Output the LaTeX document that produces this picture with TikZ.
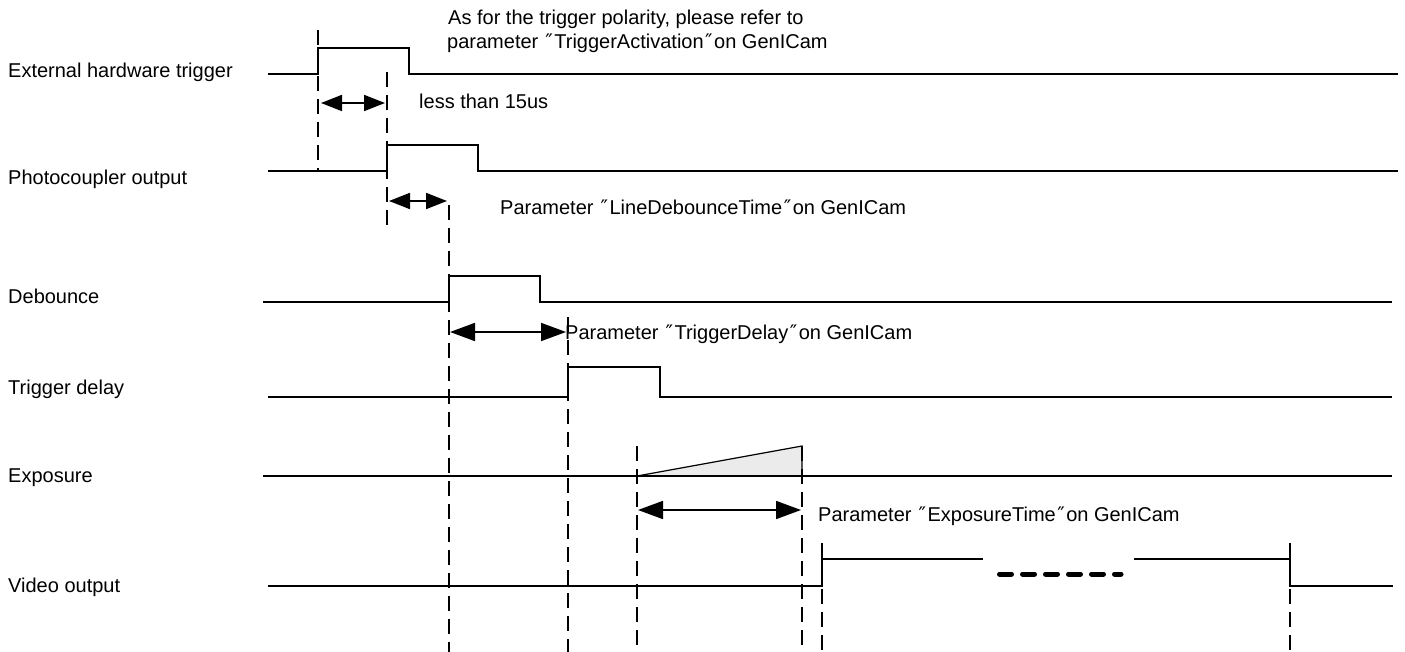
\documentclass[tikz,border=0pt]{standalone}
\usepackage{fontspec}
\setmainfont{Liberation Sans}
\newfontfamily\qfont{DejaVu Sans}
\usetikzlibrary{arrows.meta}
\newcommand{\qq}{{\qfont\kern1.5pt″\kern1.5pt}}
\begin{document}
\begin{tikzpicture}[x=1pt,y=-1pt,
  sig/.style={line width=1.2pt,black},
  guide/.style={line width=1.8pt,dash pattern=on 15pt off 8pt},
  dimsmall/.style={line width=1.8pt,{Triangle[length=21pt,width=16pt]}-{Triangle[length=21pt,width=16pt]}},
  dimbig/.style={line width=1.8pt,{Triangle[length=25pt,width=18pt]}-{Triangle[length=25pt,width=18pt]}},
  lbl/.style={anchor=base west,inner sep=0pt,font=\fontsize{20}{23}\selectfont}]
\useasboundingbox (0,0) rectangle (1405,652);

% labels
\node[lbl] (l1) at (8,78) {External hardware trigger};
\node[lbl] (l2) at (8,185) {Photocoupler output};
\node[lbl] (l3) at (8,303) {Debounce};
\node[lbl] (l4) at (8,394) {Trigger delay};
\node[lbl] (l5) at (8,482) {Exposure};
\node[lbl] (l6) at (8,592) {Video output};

% notes
\node[lbl] (n1) at (448,25) {As for the trigger polarity, please refer to};
\node[lbl] (n2) at (447,48.5) {parameter \qq TriggerActivation\qq on GenICam};
\node[lbl] (n3) at (419,109) {less than 15us};
\node[lbl] (n4) at (500,215) {Parameter \qq LineDebounceTime\qq on GenICam};
\node[lbl] (n5) at (565,339) {Parameter \qq TriggerDelay\qq on GenICam};
\node[lbl] (n6) at (818,521) {Parameter \qq ExposureTime\qq on GenICam};

% exposure fill
\fill[gray!16] (637,476) -- (802,446) -- (802,476) -- cycle;

% signals
\draw[sig] (268,74) -- (318,74) -- (318,48) -- (409,48) -- (409,74) -- (1398,74);
\draw[sig] (268,171) -- (387,171) -- (387,145) -- (478,145) -- (478,171) -- (1398,171);
\draw[sig] (263,302) -- (449,302) -- (449,276) -- (540,276) -- (540,302) -- (1392,302);
\draw[sig] (268,397) -- (568,397) -- (568,367) -- (660,367) -- (660,397) -- (1392,397);
\draw[sig] (263,476) -- (1392,476);
\draw[sig] (637,476) -- (802,446) -- (802,476);
\draw[sig] (268,586) -- (822,586) -- (822,559) -- (983,559);
\draw[sig] (1134,559) -- (1290,559) -- (1290,586) -- (1393,586);
\draw[line width=5pt,line cap=round,dash pattern=on 12pt off 11pt] (999.5,574) -- (1121,574);

% guide lines
\coordinate (g1a) at (318,30);  \coordinate (g1b) at (318,171);
\coordinate (g2a) at (387,72);  \coordinate (g2b) at (387,225);
\coordinate (g3a) at (449,205); \coordinate (g3b) at (449,652);
\coordinate (g4a) at (568,317); \coordinate (g4b) at (568,652);
\coordinate (g5a) at (637,446); \coordinate (g5b) at (637,652);
\coordinate (g6a) at (802,446); \coordinate (g6b) at (802,652);
\coordinate (g7a) at (822,543); \coordinate (g7b) at (822,652);
\coordinate (g8a) at (1290,543); \coordinate (g8b) at (1290,652);
\foreach \g in {1,...,8} {\draw[guide] (g\g a) -- (g\g b);}

% dimension arrows
\coordinate (d1a) at (321,103); \coordinate (d1b) at (385,103);
\coordinate (d2a) at (389,201); \coordinate (d2b) at (447,201);
\coordinate (d3a) at (450,332); \coordinate (d3b) at (566,332);
\coordinate (d4a) at (638,510); \coordinate (d4b) at (801,510);
\draw[dimsmall] (d1a) -- (d1b);
\draw[dimsmall] (d2a) -- (d2b);
\draw[dimbig] (d3a) -- (d3b);
\draw[dimbig] (d4a) -- (d4b);
\end{tikzpicture}
\end{document}
